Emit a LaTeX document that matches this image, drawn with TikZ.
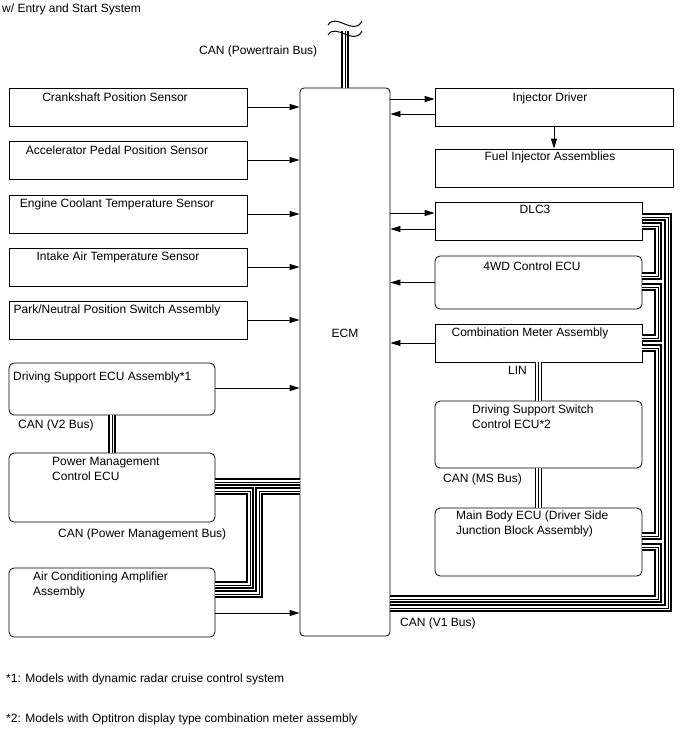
\documentclass[tikz,border=0pt]{standalone}
\usepackage{fontspec}
\setmainfont{Liberation Sans}
\usetikzlibrary{arrows.meta}
\tikzset{
  sbox/.style={draw, line width=0.8pt, inner sep=0pt},
  rbox/.style={draw, line width=0.8pt, inner sep=0pt, rounded corners=5pt},
  txt/.style={inner sep=0pt, font=\fontsize{12}{15}\selectfont, text height=9pt, text depth=2.5pt},
  mtxt/.style={inner sep=0pt, font=\fontsize{12}{15}\selectfont, align=left, anchor=north west},
  arr/.style={line width=0.8pt, -{Triangle[length=10pt,width=6pt]}},
  bus/.style={line width=7.2pt, line join=miter,
    postaction={draw, white, line width=4.6pt, line join=miter},
    postaction={draw, black, line width=1pt, line join=miter}},
  squig/.style={line width=1pt}
}
\begin{document}
\begin{tikzpicture}[x=1pt,y=-1pt]
\useasboundingbox (0,0) rectangle (688,755);
% title
\node[txt, anchor=west] (title) at (2,9) {w/ Entry and Start System};
% ECM
\node[rbox, rounded corners=4pt, minimum width=90, minimum height=548] (ecm) at (345,362) {};
\node[txt] (ecmt) at (345,334) {ECM};
% left column
\node[sbox, minimum width=238, minimum height=38] (crank) at (128,107) {};
\node[sbox, minimum width=238, minimum height=38] (accel) at (128,160) {};
\node[sbox, minimum width=238, minimum height=38] (cool) at (128,214) {};
\node[sbox, minimum width=238, minimum height=38] (intake) at (128,267) {};
\node[sbox, minimum width=238, minimum height=38] (park) at (128,320) {};
\node[txt] (crankt) at (115,98) {Crankshaft Position Sensor};
\node[txt] (accelt) at (117,151) {Accelerator Pedal Position Sensor};
\node[txt] (coolt) at (117,204) {Engine Coolant Temperature Sensor};
\node[txt] (intaket) at (118,257) {Intake Air Temperature Sensor};
\node[txt] (parkt) at (117,310) {Park/Neutral Position Switch Assembly};
\node[rbox, minimum width=206, minimum height=52] (ds) at (112,389) {};
\node[txt, anchor=west] (dst) at (13,377) {Driving Support ECU Assembly*1};
\node[rbox, minimum width=206, minimum height=69] (pm) at (112,487.5) {};
\node[mtxt] (pmt) at (52,457) {Power Management\\Control ECU};
\node[rbox, minimum width=206, minimum height=69] (ac) at (112,602.5) {};
\node[mtxt] (act) at (33,572) {Air Conditioning Amplifier\\Assembly};
\node[txt, anchor=west] (v2) at (18,425) {CAN (V2 Bus)};
\node[txt, anchor=west] (pmbus) at (58,534) {CAN (Power Management Bus)};
% right column
\node[sbox, minimum width=238, minimum height=38] (id) at (554,107) {};
\node[txt] (idt) at (550,98) {Injector Driver};
\node[sbox, minimum width=238, minimum height=38] (fi) at (554,168) {};
\node[txt] (fit) at (550,157) {Fuel Injector Assemblies};
\node[sbox, minimum width=207, minimum height=38] (dlc) at (538.5,221) {};
\node[txt] (dlct) at (535,210) {DLC3};
\node[rbox, minimum width=207, minimum height=53] (wd) at (538.5,282.5) {};
\node[txt] (wdt) at (532,267) {4WD Control ECU};
\node[sbox, minimum width=207, minimum height=38] (cm) at (538.5,343) {};
\node[txt] (cmt) at (530,333) {Combination Meter Assembly};
\node[rbox, minimum width=207, minimum height=67] (dss) at (538.5,434.5) {};
\node[mtxt] (dsst) at (472,405) {Driving Support Switch\\Control ECU*2};
\node[rbox, minimum width=207, minimum height=68] (mb) at (538.5,542) {};
\node[mtxt] (mbt) at (456,511) {Main Body ECU (Driver Side\\Junction Block Assembly)};
\node[txt, anchor=west] (lin) at (508,371) {LIN};
\node[txt, anchor=west] (ms) at (443,479) {CAN (MS Bus)};
\node[txt, anchor=west] (v1) at (400,623) {CAN (V1 Bus)};
\node[txt, anchor=west] (pt) at (199,51) {CAN (Powertrain Bus)};
% footnotes
\node[txt, anchor=west] (fn1) at (6,679) {*1: Models with dynamic radar cruise control system};
\node[txt, anchor=west] (fn2) at (6,719) {*2: Models with Optitron display type combination meter assembly};
% signal arrows left
\draw[arr] (crank.east) -- (ecm.west |- crank.east);
\draw[arr] (accel.east) -- (ecm.west |- accel.east);
\draw[arr] (cool.east) -- (ecm.west |- cool.east);
\draw[arr] (intake.east) -- (ecm.west |- intake.east);
\draw[arr] (park.east) -- (ecm.west |- park.east);
\draw[arr] (ds.east |- 0,388) -- (ecm.west |- 0,388);
\draw[arr] (ac.east |- 0,613) -- (ecm.west |- 0,613);
% signal arrows right
\draw[arr] (ecm.east |- 0,99) -- (id.west |- 0,99);
\draw[arr] (id.west |- 0,114) -- (ecm.east |- 0,114);
\draw[arr] (id.south) -- (fi.north);
\draw[arr] (ecm.east |- 0,213) -- (dlc.west |- 0,213);
\draw[arr] (dlc.west |- 0,229) -- (ecm.east |- 0,229);
\draw[arr] (wd.west) -- (ecm.east |- wd.west);
\draw[arr] (cm.west) -- (ecm.east |- cm.west);
% powertrain bus
\coordinate (ptend) at (345,31);
\draw[bus] (ecm.north) -- (ptend);
\draw[squig] (328,25) .. controls (336,12) and (354,37) .. (362,21);
\draw[squig] (328,35) .. controls (336,22) and (354,47) .. (362,31);
% left buses
\draw[bus] (ds.south) -- (pm.north);
\draw[bus] (ecm.west |- 0,482) -- (pm.east |- 0,482);
\draw[bus] (pm.east |- 0,491) -- (250,491) -- (250,585) -- (ac.east |- 0,585);
\draw[bus] (ac.east |- 0,594) -- (259,594) -- (259,491) -- (ecm.west |- 0,491);
% right buses
\draw[bus] (cm.south) -- (dss.north);
\draw[bus] (dss.south) -- (mb.north);
\draw[bus] (dlc.east |- 0,217) -- (668,217) -- (668,608) -- (ecm.east |- 0,608);
\draw[bus] (dlc.east |- 0,226) -- (658,226) -- (658,276) -- (wd.east |- 0,276);
\draw[bus] (wd.east |- 0,287) -- (658,287) -- (658,338) -- (cm.east |- 0,338);
\draw[bus] (cm.east |- 0,348) -- (658,348) -- (658,536) -- (mb.east |- 0,536);
\draw[bus] (mb.east |- 0,547) -- (658,547) -- (658,599) -- (ecm.east |- 0,599);
\end{tikzpicture}
\end{document}
